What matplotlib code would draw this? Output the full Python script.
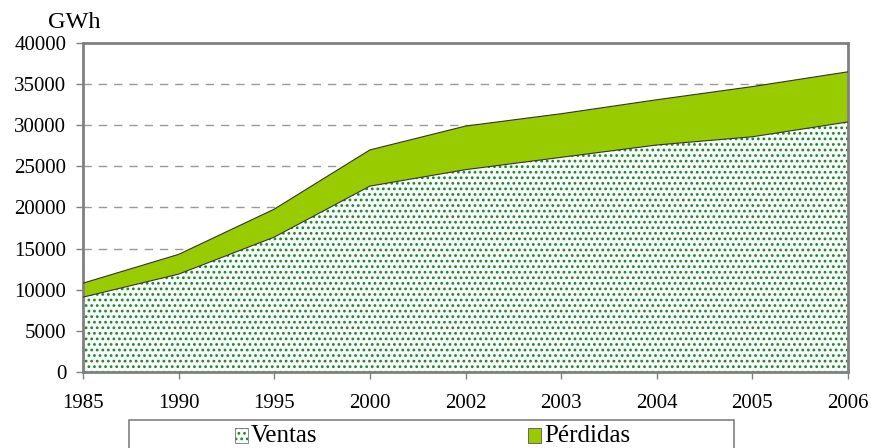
import numpy as np
import matplotlib
matplotlib.use("Agg")
import matplotlib.pyplot as plt
from matplotlib.patches import Rectangle

years = ["1985", "1990", "1995", "2000", "2002", "2003", "2004", "2005", "2006"]
ventas = [9100, 11900, 16400, 22600, 24600, 26100, 27600, 28600, 30400]
total = [10800, 14300, 19800, 27000, 29900, 31400, 33100, 34700, 36500]
perdidas = [t - v for t, v in zip(total, ventas)]
labels = ["Ventas", "Pérdidas"]

plt.rcParams["font.family"] = ["Liberation Serif", "DejaVu Serif"]
plt.rcParams["hatch.linewidth"] = 1.2

green = "#99cc00"
dotc = "#23803a"
light = "#f7fcf7"
grey = "#808080"
W, H = 871, 448

fig = plt.figure(figsize=(8.71, 4.48), dpi=100)
ax = fig.add_axes([83 / W, 76 / H, 765 / W, 329 / H])

x = np.arange(len(years))
base = np.array(ventas)
top = base + np.array(perdidas)

ax.fill_between(x, 0, base, facecolor=light, edgecolor=dotc,
                hatch="...", linewidth=0, zorder=2)
ax.fill_between(x, base, top, facecolor=green, linewidth=0, zorder=2)
ax.plot(x, base, color="#333333", lw=0.8, zorder=3)
ax.plot(x, top, color="#333333", lw=0.8, zorder=3)

ax.set_xlim(0, len(years) - 1)
ax.set_ylim(0, 40000)
ax.set_yticks(np.arange(0, 40001, 5000))
ax.set_xticks(x)
ax.set_xticklabels(years)
for yv in range(5000, 40000, 5000):
    ax.axhline(yv, color="#999999", lw=1.0, ls=(0, (6, 5)), zorder=1)

for s in ax.spines.values():
    s.set_color(grey)
    s.set_linewidth(2)
ax.tick_params(axis="both", colors="black", labelsize=15, length=5,
               width=1, direction="out", color=grey)
ax.tick_params(axis="x", pad=11)
ax.tick_params(axis="y", pad=7)

fig.text(48 / W, 1 - 22 / H, "GWh", fontsize=17.5, ha="left", va="center")

# legend box drawn by hand (clipped at the bottom like the original)
fig.patches.append(Rectangle((129 / W, 1 - 458 / H), 605 / W, 38 / H,
                             transform=fig.transFigure, facecolor="white",
                             edgecolor=grey, linewidth=1.2, zorder=5))
hx = [235, 528]
styles = [dict(facecolor=light, edgecolor=dotc, hatch="...", linewidth=0),
          dict(facecolor=green, edgecolor="#555555", linewidth=0.6)]
for px, lab, st in zip(hx, labels, styles):
    fig.patches.append(Rectangle((px / W, 1 - 443 / H), 13 / W, 15 / H,
                                 transform=fig.transFigure, zorder=6, **st))
    if lab == "Ventas":
        fig.patches.append(Rectangle((px / W, 1 - 443 / H), 13 / W, 15 / H,
                                     transform=fig.transFigure, zorder=7,
                                     fill=False, edgecolor="#777777",
                                     linewidth=0.6))
    fig.text((px + 16) / W, 1 - 436 / H, lab, fontsize=18, ha="left",
             va="center", zorder=8)

fig.savefig("out.png", dpi=100)
